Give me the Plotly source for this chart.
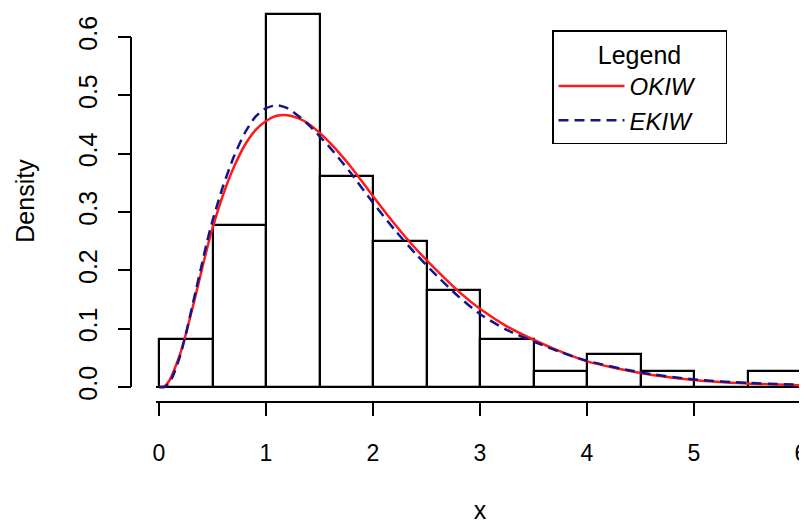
import plotly.graph_objects as go

# ---- data ----
bin_centers = [0.25, 0.75, 1.25, 1.75, 2.25, 2.75, 3.25, 3.75, 4.25, 4.75, 5.25, 5.75]
bin_width = 0.5
densities = [0.083, 0.278, 0.639, 0.361, 0.25, 0.167, 0.083, 0.028, 0.056, 0.028, 0.0, 0.028]

curve_x = [0.0, 0.05, 0.1, 0.15, 0.2, 0.25, 0.3, 0.35, 0.4, 0.45, 0.5, 0.6, 0.7, 0.8, 0.9,
           1.0, 1.1, 1.2, 1.3, 1.4, 1.5, 1.6, 1.7, 1.8, 2.0, 2.2, 2.4, 2.6, 2.8, 3.0,
           3.25, 3.5, 3.75, 4.0, 4.5, 5.0, 5.5, 6.0]
okiw = [0.0, 0.001, 0.012, 0.033, 0.058, 0.09, 0.126, 0.163, 0.201, 0.238, 0.272, 0.33, 0.377,
        0.414, 0.44, 0.456, 0.465, 0.466, 0.461, 0.451, 0.436, 0.418, 0.398, 0.376, 0.327,
        0.28, 0.237, 0.199, 0.164, 0.134, 0.104, 0.081, 0.061, 0.044, 0.024, 0.012, 0.006, 0.003]
ekiw = [0.0, 0.0, 0.008, 0.028, 0.055, 0.09, 0.13, 0.17, 0.21, 0.25, 0.285, 0.345, 0.395,
        0.435, 0.463, 0.478, 0.483, 0.478, 0.465, 0.449, 0.43, 0.41, 0.388, 0.365, 0.316,
        0.27, 0.228, 0.19, 0.155, 0.125, 0.098, 0.078, 0.06, 0.045, 0.025, 0.013, 0.007, 0.004]

x_ticks = [0, 1, 2, 3, 4, 5, 6]
y_ticks = [0.0, 0.1, 0.2, 0.3, 0.4, 0.5, 0.6]
y_tick_labels = ["0.0", "0.1", "0.2", "0.3", "0.4", "0.5", "0.6"]

# ---- layout geometry (window pixels; page body adds an 8px offset) ----
W, H = 807, 525
OFF = 8.0
FONT = "Liberation Sans, Arial, Helvetica, sans-serif"

px_per_x = 107.0
px_per_y = 583.3
x0_px, y0_px = 159.0 - OFF, 387.0 - OFF
plot_left, plot_right = 156.0 - OFF, 804.0 - OFF
plot_top, plot_bottom = 12.0 - OFF, 390.0 - OFF

x_range = [(plot_left - x0_px) / px_per_x, (plot_right - x0_px) / px_per_x]
y_range = [(y0_px - plot_bottom) / px_per_y, (y0_px - plot_top) / px_per_y]

PAD = "&nbsp;" * 4

fig = go.Figure()

fig.add_trace(go.Bar(
    x=bin_centers, y=densities, width=bin_width,
    marker=dict(color="white", line=dict(color="black", width=2.2)),
    showlegend=False, hoverinfo="x+y",
))

fig.add_trace(go.Scatter(
    x=curve_x, y=okiw, mode="lines", name="<i>OKIW</i>" + PAD,
    line=dict(color="#ff1a1a", width=2.5, shape="spline", smoothing=0.7),
))
fig.add_trace(go.Scatter(
    x=curve_x, y=ekiw, mode="lines", name="<i>EKIW</i>" + PAD,
    line=dict(color="#14148c", width=2.5, dash="10px,6px", shape="spline", smoothing=0.7),
))

# y axis line spanning only the tick range (R style)
y_axis_pos = (131.0 - OFF) / W
fig.add_shape(type="line", xref="paper", yref="y",
              x0=y_axis_pos, x1=y_axis_pos, y0=y_ticks[0], y1=y_ticks[-1],
              line=dict(color="black", width=2))

fig.update_layout(
    width=W, height=H,
    margin=dict(l=0, r=0, t=0, b=0),
    paper_bgcolor="white", plot_bgcolor="white",
    font=dict(family=FONT, size=24, color="black"),
    bargap=0,
    xaxis=dict(
        domain=[plot_left / W, plot_right / W],
        range=x_range,
        anchor="free", position=1 - (402.0 - OFF) / H,
        tickmode="array", tickvals=x_ticks, ticktext=[str(t) for t in x_ticks],
        tickfont=dict(size=23),
        ticks="outside", ticklen=13, tickwidth=2, tickcolor="black",
        showline=True, linecolor="black", linewidth=2,
        showgrid=False, zeroline=False,
        ticklabelstandoff=17,
        title=dict(text="x", standoff=36, font=dict(size=25)),
        automargin=False,
    ),
    yaxis=dict(
        domain=[1 - plot_bottom / H, 1 - plot_top / H],
        range=y_range,
        anchor="free", position=y_axis_pos,
        tickmode="array", tickvals=y_ticks, ticktext=y_tick_labels,
        tickangle=-90, tickfont=dict(size=25),
        ticks="outside", ticklen=13, tickwidth=2, tickcolor="black",
        showline=False, showgrid=False,
        zeroline=True, zerolinecolor="black", zerolinewidth=2.2,
        ticklabelstandoff=11,
        title=dict(text="Density", standoff=31, font=dict(size=25)),
        automargin=False,
    ),
    legend=dict(
        x=(552.0 - OFF) / W, y=1 - (30.0 - OFF) / H, xanchor="left", yanchor="top",
        bgcolor="white", bordercolor="black", borderwidth=1.5,
        font=dict(size=24, family=FONT),
        title=dict(text="Legend", side="top center", font=dict(size=25)),
        itemwidth=66,
        tracegroupgap=0,
    ),
)

fig.write_html("out.html")
